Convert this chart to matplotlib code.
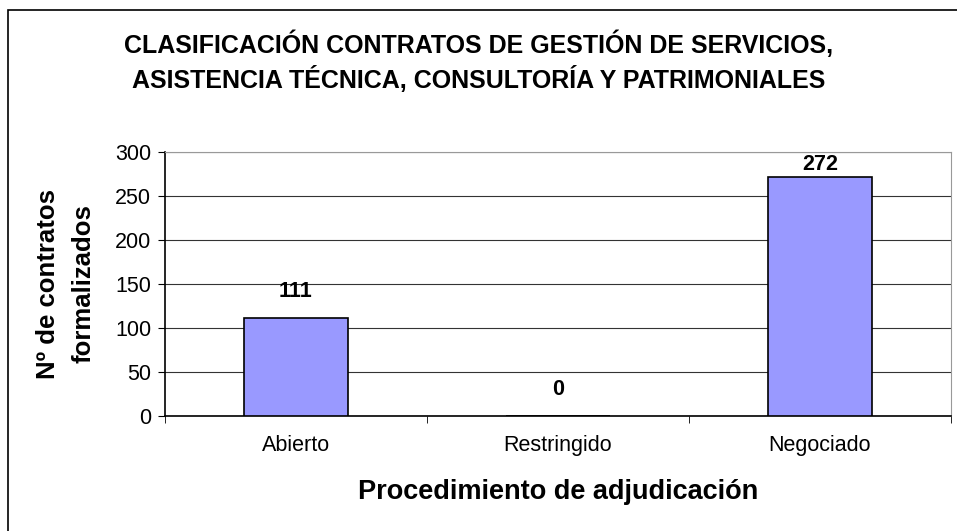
import matplotlib.pyplot as plt
from matplotlib.patches import Rectangle

categories = ['Abierto', 'Restringido', 'Negociado']
contratos = [111, 0, 272]
yticks = [0, 50, 100, 150, 200, 250, 300]

plt.rcParams['font.family'] = ['Liberation Sans', 'DejaVu Sans']

fig = plt.figure(figsize=(9.57, 5.31), dpi=100)
W, H = 957, 531
ax = fig.add_axes([165 / W, 1 - 416 / H, (951 - 165) / W, (416 - 152) / H])

# outer chart border
fig.patches.append(Rectangle((8 / W, -0.1), 1.2, 1 - 10 / H + 0.1, transform=fig.transFigure,
                             fill=False, edgecolor='black', linewidth=1.2))

x = list(range(len(categories)))
ax.bar(x, contratos, width=0.4, color='#9999FF', edgecolor='black', linewidth=1.2, zorder=3)
for xi, v in zip(x, contratos):
    ax.text(xi, min(v + 30, 286), str(v), ha='center', va='center', fontsize=15.5, fontweight='bold')

ax.set_xlim(-0.5, 2.5)
ax.set_ylim(0, 300)
ax.set_yticks(yticks)
ax.yaxis.grid(True, color='#333333', linewidth=0.8, zorder=0)
ax.set_xticks(x)
ax.set_xticklabels(categories, fontsize=15.5)
ax.set_xticks([-0.5, 0.5, 1.5, 2.5], minor=True)
ax.tick_params(axis='x', which='major', length=0, pad=14)
ax.tick_params(axis='x', which='minor', length=5, direction='out', color='black')
ax.tick_params(axis='y', labelsize=15.5, length=5, direction='out', pad=5)

for s in ['top', 'right']:
    ax.spines[s].set_color('#999999')
for s in ['left', 'bottom']:
    ax.spines[s].set_color('black')
    ax.spines[s].set_linewidth(1.2)

ax.set_ylabel('Nº de contratos\nformalizados', fontsize=18.5, fontweight='bold',
              linespacing=1.6, va='center')
ax.yaxis.set_label_coords(-0.126, 0.5)
ax.set_xlabel('Procedimiento de adjudicación', fontsize=19.5, fontweight='bold', labelpad=16)

fig.text(0.5, 1 - 62 / H, 'CLASIFICACIÓN CONTRATOS DE GESTIÓN DE SERVICIOS,\n'
         'ASISTENCIA TÉCNICA, CONSULTORÍA Y PATRIMONIALES',
         ha='center', va='center', fontsize=18, fontweight='bold', linespacing=1.35)

fig.savefig('out.png', dpi=100)
